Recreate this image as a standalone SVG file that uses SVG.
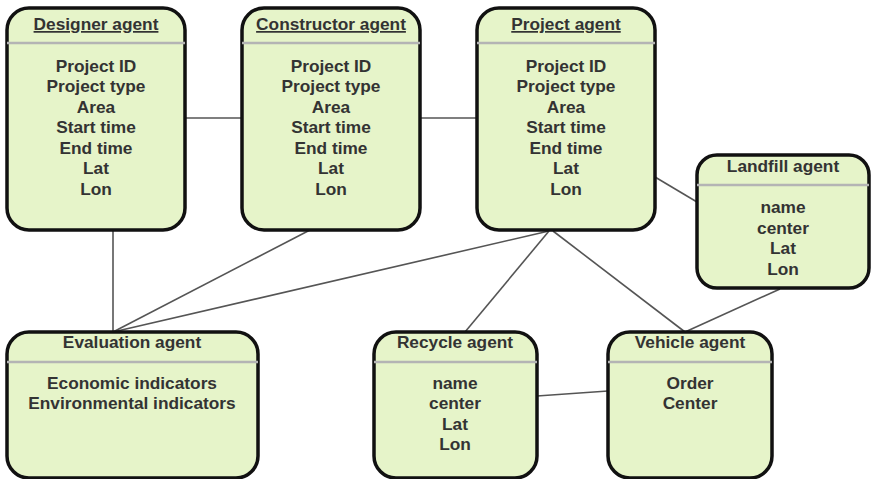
<svg xmlns="http://www.w3.org/2000/svg" width="871" height="479" viewBox="0 0 871 479">
  <style>
    .box { fill: #e6f4c9; stroke: #111; stroke-width: 3.5; }
    .sep { stroke: #b4b4b4; stroke-width: 2.5; }
    .title { font-family: "Liberation Sans", Arial, sans-serif; font-size: 17.3px; font-weight: bold; fill: #333; text-anchor: middle; }
    .ul { text-decoration: underline; }
    .row { font-family: "Liberation Sans", Arial, sans-serif; font-size: 17.3px; font-weight: bold; fill: #333; text-anchor: middle; }
    .conn line { stroke: #555; stroke-width: 1.6; }
  </style>
  <rect width="871" height="479" fill="#fff"/>

  <!-- connectors -->
  <g id="connectors" class="conn">
    <line x1="185" y1="118" x2="242" y2="118"/>
    <line x1="420" y1="118" x2="476" y2="118"/>
    <line x1="113" y1="230" x2="113" y2="332"/>
    <line x1="310" y1="230" x2="113" y2="332"/>
    <line x1="549" y1="231" x2="113" y2="332"/>
    <line x1="549" y1="231" x2="465" y2="332"/>
    <line x1="553" y1="231" x2="685" y2="332"/>
    <line x1="655" y1="177" x2="697" y2="202"/>
    <line x1="780" y1="289" x2="685" y2="332"/>
    <line x1="537" y1="396" x2="608" y2="391"/>
  </g>

  <!-- Designer agent -->
  <g id="designer">
    <rect class="box" x="7" y="8" width="178" height="222" rx="22"/>
    <line class="sep" x1="7" y1="43" x2="185" y2="43"/>
    <text class="title ul" x="96" y="30">Designer agent</text>
    <text class="row" x="96" y="72">Project ID</text>
    <text class="row" x="96" y="92">Project type</text>
    <text class="row" x="96" y="113">Area</text>
    <text class="row" x="96" y="133">Start time</text>
    <text class="row" x="96" y="154">End time</text>
    <text class="row" x="96" y="174">Lat</text>
    <text class="row" x="96" y="195">Lon</text>
  </g>

  <!-- Constructor agent -->
  <g id="constructor">
    <rect class="box" x="242" y="8" width="178" height="222" rx="22"/>
    <line class="sep" x1="242" y1="43" x2="420" y2="43"/>
    <text class="title ul" x="331" y="30">Constructor agent</text>
    <text class="row" x="331" y="72">Project ID</text>
    <text class="row" x="331" y="92">Project type</text>
    <text class="row" x="331" y="113">Area</text>
    <text class="row" x="331" y="133">Start time</text>
    <text class="row" x="331" y="154">End time</text>
    <text class="row" x="331" y="174">Lat</text>
    <text class="row" x="331" y="195">Lon</text>
  </g>

  <!-- Project agent -->
  <g id="project">
    <rect class="box" x="477" y="8" width="178" height="222" rx="22"/>
    <line class="sep" x1="477" y1="43" x2="655" y2="43"/>
    <text class="title ul" x="566" y="30">Project agent</text>
    <text class="row" x="566" y="72">Project ID</text>
    <text class="row" x="566" y="92">Project type</text>
    <text class="row" x="566" y="113">Area</text>
    <text class="row" x="566" y="133">Start time</text>
    <text class="row" x="566" y="154">End time</text>
    <text class="row" x="566" y="174">Lat</text>
    <text class="row" x="566" y="195">Lon</text>
  </g>

  <!-- Landfill agent -->
  <g id="landfill">
    <rect class="box" x="697" y="155" width="172" height="133" rx="20"/>
    <line class="sep" x1="697" y1="185" x2="869" y2="185"/>
    <text class="title" x="783" y="172">Landfill agent</text>
    <text class="row" x="783" y="213">name</text>
    <text class="row" x="783" y="234">center</text>
    <text class="row" x="783" y="254">Lat</text>
    <text class="row" x="783" y="275">Lon</text>
  </g>

  <!-- Evaluation agent -->
  <g id="evaluation">
    <rect class="box" x="7" y="332" width="251" height="146" rx="22"/>
    <line class="sep" x1="7" y1="362" x2="258" y2="362"/>
    <text class="title" x="132" y="348">Evaluation agent</text>
    <text class="row" x="132" y="389">Economic indicators</text>
    <text class="row" x="132" y="409">Environmental indicators</text>
  </g>

  <!-- Recycle agent -->
  <g id="recycle">
    <rect class="box" x="374" y="332" width="163" height="146" rx="22"/>
    <line class="sep" x1="374" y1="362" x2="537" y2="362"/>
    <text class="title" x="455" y="348">Recycle agent</text>
    <text class="row" x="455" y="389">name</text>
    <text class="row" x="455" y="409">center</text>
    <text class="row" x="455" y="430">Lat</text>
    <text class="row" x="455" y="450">Lon</text>
  </g>

  <!-- Vehicle agent -->
  <g id="vehicle">
    <rect class="box" x="608" y="332" width="164" height="146" rx="22"/>
    <line class="sep" x1="608" y1="362" x2="772" y2="362"/>
    <text class="title" x="690" y="348">Vehicle agent</text>
    <text class="row" x="690" y="389">Order</text>
    <text class="row" x="690" y="409">Center</text>
  </g>
</svg>
